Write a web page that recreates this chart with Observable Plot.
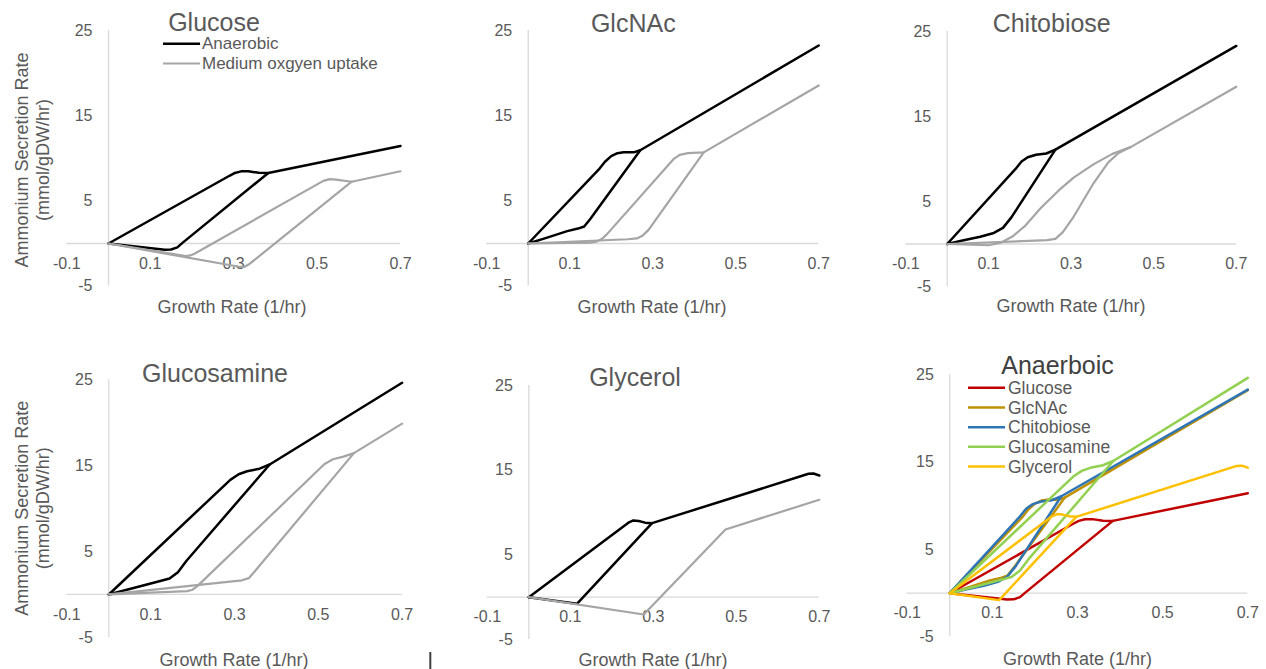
<!DOCTYPE html>
<html><head><meta charset="utf-8">
<script src="https://cdn.jsdelivr.net/npm/d3@7"></script>
<script src="https://cdn.jsdelivr.net/npm/@observablehq/plot@0.6"></script>
<style>
html,body{margin:0;padding:0;background:#fff;}
#root{position:relative;width:1266px;height:669px;overflow:hidden;font-family:"Liberation Sans",Arial,sans-serif;}
#root svg{position:absolute;left:0;top:0;overflow:visible;}
</style></head><body><div id="root"></div>
<script>
// ---------- data ----------
const xTicks = [-0.1, 0.1, 0.3, 0.5, 0.7];
const yTicks = [-5, 5, 15, 25];
const substrates = ["Glucose", "GlcNAc", "Chitobiose", "Glucosamine", "Glycerol"];
const conditions = ["Anaerobic", "Medium oxgyen uptake"];

// [growth rate, ammonium secretion rate]
const glucoseAnUpper = [[0,0],[0.29,7.95],[0.303,8.28],[0.318,8.47],[0.335,8.48],[0.36,8.3],[0.383,8.28],[0.7,11.45]];
const glucoseAnLower = [[0,0],[0.135,-0.72],[0.15,-0.7],[0.165,-0.45],[0.178,0.1],[0.383,8.28]];
const glucoseMedUpper = [[0,0],[0.186,-1.48],[0.196,-1.4],[0.206,-1.2],[0.515,7.35],[0.53,7.55],[0.545,7.5],[0.583,7.25],[0.7,8.48]];
const glucoseMedLower = [[0,0],[0.31,-2.7],[0.325,-2.75],[0.338,-2.4],[0.583,7.25]];

const glcnacAnUpper = [[0,0],[0.172,8.8],[0.185,9.6],[0.2,10.25],[0.215,10.6],[0.23,10.7],[0.254,10.7],[0.27,10.94],[0.7,23.24]];
const glcnacAnLower = [[0,0],[0.04,0.6],[0.094,1.45],[0.12,1.75],[0.135,2.0],[0.15,2.9],[0.27,10.94]];
const glcnacMedUpper = [[0,0],[0.15,0.1],[0.166,0.25],[0.178,0.55],[0.19,1.1],[0.35,9.9],[0.365,10.4],[0.385,10.6],[0.423,10.7],[0.7,18.55]];
const glcnacMedLower = [[0,0],[0.24,0.5],[0.262,0.6],[0.275,0.9],[0.29,1.6],[0.423,10.7]];

const chitobioseAnUpper = [[0,0],[0.165,8.8],[0.18,9.7],[0.195,10.2],[0.215,10.5],[0.24,10.65],[0.262,11.1],[0.7,23.3]];
const chitobioseAnLower = [[0,0],[0.04,0.45],[0.08,0.85],[0.113,1.3],[0.135,1.9],[0.155,3.1],[0.262,11.1]];
const chitobioseMedUpper = [[0,0],[0.1,-0.15],[0.13,0.15],[0.16,0.95],[0.19,2.2],[0.226,4.2],[0.27,6.3],[0.306,7.8],[0.355,9.4],[0.4,10.6],[0.444,11.4],[0.7,18.5]];
const chitobioseMedLower = [[0,0],[0.242,0.45],[0.262,0.6],[0.28,1.4],[0.306,3.2],[0.355,7.2],[0.39,9.6],[0.415,10.7],[0.444,11.4]];

const glucosamineAnUpper = [[0,0],[0.29,13.35],[0.31,14.0],[0.33,14.35],[0.36,14.65],[0.384,15.14],[0.7,24.65]];
const glucosamineAnLower = [[0,0],[0.125,1.6],[0.145,1.85],[0.165,2.6],[0.185,3.9],[0.384,15.14]];
const glucosamineMedUpper = [[0,0],[0.187,0.39],[0.2,0.55],[0.212,1.0],[0.515,15.2],[0.535,15.75],[0.56,16.05],[0.585,16.46],[0.7,19.9]];
const glucosamineMedLower = [[0,0],[0.318,1.65],[0.334,1.9],[0.345,2.5],[0.585,16.46]];

const glycerolAnUpper = [[0,0],[0.24,8.8],[0.252,9.06],[0.265,9.0],[0.28,8.8],[0.297,8.74],[0.674,14.57],[0.686,14.6],[0.7,14.37]];
const glycerolAnLower = [[0,0],[0.116,-0.79],[0.297,8.74]];
const glycerolMedUpper = [[0,0],[0.277,-2.05],[0.474,8.0],[0.7,11.5]];

// ---------- styling / layout ----------
const FONT = '"Liberation Sans", Arial, sans-serif';
const TXT = "#595959";
const AX = "#d9d9d9";
const BLACK = "#000000";
const GRAY = "#a5a5a5";
const substrateColors = ["#c00000", "#bf9000", "#2e75b6", "#92d050", "#ffc000"];

const W = 1266, H = 669;
const frames = [
  {xL: 66.3, xR: 400, yT: 30, yB: 285.6},
  {xL: 486.2, xR: 818.2, yT: 30, yB: 285.6},
  {xL: 905.4, xR: 1235.8, yT: 31, yB: 286},
  {xL: 66.4, xR: 401.6, yT: 379.3, yB: 636.9},
  {xL: 486.8, xR: 818.8, yT: 385, yB: 639},
  {xL: 906.7, xR: 1247.3, yT: 374.3, yB: 636.4}
];

const anaerobic = [
  [glucoseAnUpper, glucoseAnLower],
  [glcnacAnUpper, glcnacAnLower],
  [chitobioseAnUpper, chitobioseAnLower],
  [glucosamineAnUpper, glucosamineAnLower],
  [glycerolAnUpper, glycerolAnLower]
];
const medium = [
  [glucoseMedUpper, glucoseMedLower],
  [glcnacMedUpper, glcnacMedLower],
  [chitobioseMedUpper, chitobioseMedLower],
  [glucosamineMedUpper, glucosamineMedLower],
  [glycerolMedUpper]
];

const root = document.getElementById("root");

function lineMarks(branches, color, width) {
  return branches.map(b => Plot.line(b, {
    x: d => d[0], y: d => d[1], stroke: color, strokeWidth: width,
    curve: "linear", strokeLinejoin: "round", strokeLinecap: "round"
  }));
}

function makePanel(f, seriesMarks) {
  const svg = Plot.plot({
    width: W, height: H,
    marginLeft: f.xL, marginRight: W - f.xR, marginTop: f.yT, marginBottom: H - f.yB,
    x: {domain: [-0.1, 0.7], axis: null},
    y: {domain: [-5, 25], axis: null},
    style: {background: "transparent", fontFamily: FONT, overflow: "visible"},
    marks: [
      Plot.ruleY([0], {x1: () => -0.1, x2: () => 0.7, stroke: AX, strokeWidth: 1.3}),
      Plot.ruleX([0], {y1: () => -5, y2: () => 25, stroke: AX, strokeWidth: 1.3}),
      Plot.text(xTicks, {x: d => d, y: () => 0, dy: 20, text: d => String(d), fill: TXT, fontSize: 16}),
      Plot.text(yTicks, {x: () => 0, y: d => d, dx: -16, text: d => String(d), textAnchor: "end", fill: TXT, fontSize: 16}),
      ...seriesMarks
    ]
  });
  root.appendChild(svg);
}

for (let i = 0; i < 5; i++) {
  makePanel(frames[i], [
    ...lineMarks(anaerobic[i], BLACK, 2.5),
    ...lineMarks(medium[i], GRAY, 2.2)
  ]);
}
makePanel(frames[5], anaerobic.flatMap((b, i) => lineMarks(b, substrateColors[i], 2.5)));

// ---------- titles, axis titles, legends ----------
const ov = d3.select(root).append("svg").attr("width", W).attr("height", H)
  .style("font-family", FONT);

const titlePos = [[214, 30.5], [633.3, 31.7], [1051.7, 32.3], [215, 381.7], [635, 385.7], [1057.5, 374.3]];
const titles = [...substrates, "Anaerboic"];
titles.forEach((t, i) => {
  ov.append("text").attr("x", titlePos[i][0]).attr("y", titlePos[i][1])
    .attr("text-anchor", "middle").attr("font-size", 25)
    .attr("fill", i === 5 ? "#404040" : TXT).text(t);
});

const xTitlePos = [[232, 307], [652, 307], [1071, 306], [234, 660], [653, 660], [1077.5, 659]];
xTitlePos.forEach(p => {
  ov.append("text").attr("x", p[0]).attr("y", p[1]).attr("text-anchor", "middle")
    .attr("dominant-baseline", "central").attr("font-size", 18).attr("fill", TXT)
    .text("Growth Rate (1/hr)");
});

[[160], [508.3]].forEach(([cy]) => {
  const g = ov.append("g").attr("transform", `translate(32.5,${cy}) rotate(-90)`);
  g.append("text").attr("x", 0).attr("y", -10.8).attr("text-anchor", "middle")
    .attr("dominant-baseline", "central").attr("font-size", 18).attr("fill", TXT)
    .text("Ammonium Secretion Rate");
  g.append("text").attr("x", 0).attr("y", 10.8).attr("text-anchor", "middle")
    .attr("dominant-baseline", "central").attr("font-size", 18).attr("fill", TXT)
    .text("(mmol/gDW/hr)");
});

// legend panel 1
[[43.8, BLACK, 2.5], [63.5, GRAY, 2.2]].forEach(([y, c, w], i) => {
  ov.append("line").attr("x1", 163).attr("x2", 200).attr("y1", y).attr("y2", y)
    .attr("stroke", c).attr("stroke-width", w);
  ov.append("text").attr("x", 202).attr("y", y).attr("dominant-baseline", "central")
    .attr("font-size", 17).attr("fill", TXT).text(conditions[i]);
});
// legend panel 6
const leg6 = [387.7, 407.5, 427.2, 446.8, 466.5];
substrates.forEach((s, i) => {
  ov.append("line").attr("x1", 968).attr("x2", 1005).attr("y1", leg6[i]).attr("y2", leg6[i])
    .attr("stroke", substrateColors[i]).attr("stroke-width", 2.5);
  ov.append("text").attr("x", 1008).attr("y", leg6[i]).attr("dominant-baseline", "central")
    .attr("font-size", 17.5).attr("fill", TXT).text(s);
});
// stray caret mark present in the source image
ov.append("rect").attr("x", 429.3).attr("y", 652).attr("width", 2).attr("height", 17).attr("fill", "#404040");
</script></body></html>
